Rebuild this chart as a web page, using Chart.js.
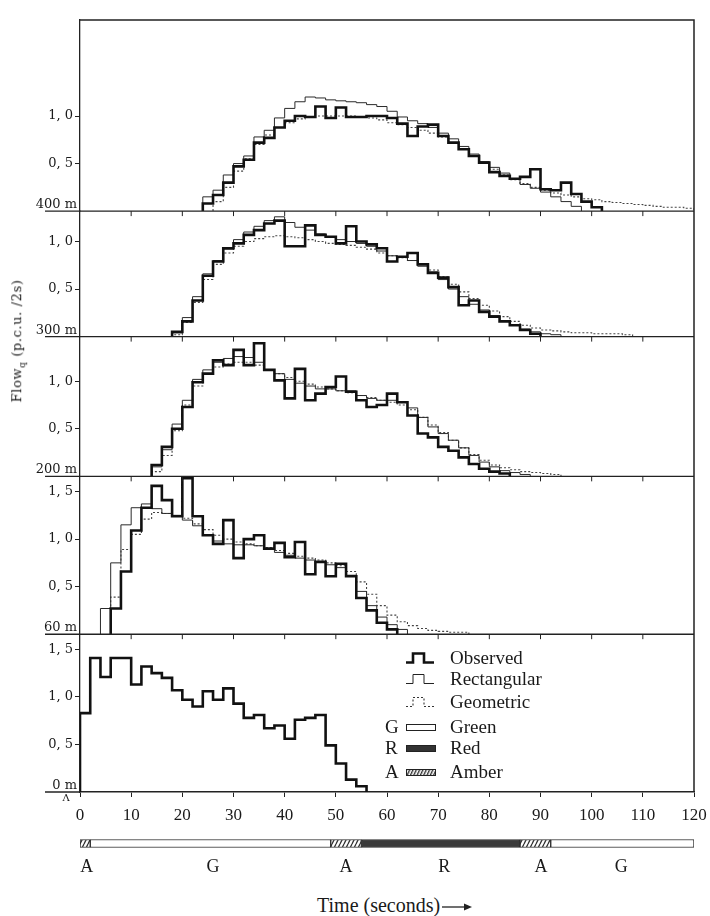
<!DOCTYPE html>
<html><head><meta charset="utf-8">
<script src="https://cdn.jsdelivr.net/npm/chart.js@4/dist/chart.umd.min.js"></script>
<style>
html,body{margin:0;padding:0;background:#fff;}
#wrap{position:relative;width:710px;height:916px;overflow:hidden;font-family:'Liberation Serif',serif;color:#1a1a1a;}
#main{position:absolute;left:0;top:0;}
#sig{position:absolute;left:0;top:836px;}
.ytitle{position:absolute;left:18px;top:341px;transform:translate(-50%,-50%) rotate(-90deg);font-family:'DejaVu Serif',serif;font-size:13px;white-space:nowrap;letter-spacing:0.6px;}
.ytitle sub{font-size:9px;}
.lg{position:absolute;font-size:19px;line-height:20px;white-space:nowrap;}
.ic{position:absolute;}
.xtitle{position:absolute;left:317px;top:893px;font-size:20px;line-height:24px;white-space:nowrap;}
.xtitle svg{vertical-align:middle;margin-left:2px;}
</style></head>
<body><div id="wrap">
<canvas id="main" width="710" height="830"></canvas>
<canvas id="sig" width="710" height="45"></canvas>
<div class="ytitle">Flow<sub>q</sub> (p.c.u. /2s)</div>

<svg class="ic" style="left:406px;top:652px" width="28" height="12"><path d="M0 10.5 H7 V1.5 H18 V10.5 H28" stroke="#111" stroke-width="2.6" fill="none"/></svg>
<div class="lg" style="left:450px;top:648px">Observed</div>
<svg class="ic" style="left:406px;top:673px" width="28" height="12"><path d="M0 10.5 H7 V1.5 H18 V10.5 H28" stroke="#222" stroke-width="1" fill="none"/></svg>
<div class="lg" style="left:450px;top:669px">Rectangular</div>
<svg class="ic" style="left:406px;top:696px" width="28" height="12"><path d="M0 10.5 H7 V1.5 H18 V10.5 H28" stroke="#333" stroke-width="1.1" stroke-dasharray="2 2" fill="none"/></svg>
<div class="lg" style="left:450px;top:692px">Geometric</div>

<div class="lg" style="left:385px;top:717px">G</div>
<svg class="ic" style="left:406px;top:724px" width="30" height="8"><rect x="0.5" y="0.5" width="29" height="6" fill="#fff" stroke="#222"/></svg>
<div class="lg" style="left:450px;top:717px">Green</div>
<div class="lg" style="left:385px;top:738px">R</div>
<svg class="ic" style="left:406px;top:745px" width="30" height="8"><rect x="0.5" y="0.5" width="29" height="6" fill="#333" stroke="#222"/></svg>
<div class="lg" style="left:450px;top:738px">Red</div>
<div class="lg" style="left:385px;top:762px">A</div>
<svg class="ic" style="left:406px;top:769px" width="30" height="8"><defs><pattern id="hp" width="3" height="4" patternUnits="userSpaceOnUse" patternTransform="rotate(25)"><rect width="1.4" height="4" fill="#333"/></pattern></defs><rect x="0.5" y="0.5" width="29" height="6" fill="url(#hp)" stroke="#222"/></svg>
<div class="lg" style="left:450px;top:762px">Amber</div>

<div class="xtitle">Time (seconds)<svg width="32" height="10"><line x1="0" y1="5" x2="27" y2="5" stroke="#222" stroke-width="1.3"/><path d="M22 1.5 L30 5 L22 8.5 Z" fill="#222"/></svg></div>
</div>
<script>
// ---- data: flow (p.c.u./2s) per 2-second interval ----
const binWidth = 2;
const panelNames = ['400 m', '300 m', '200 m', '60 m', '0 m'];
const panelTicks400 = [0.5, 1.0];
const panelTicks300 = [0.5, 1.0];
const panelTicks200 = [0.5, 1.0];
const panelTicks60 = [0.5, 1.0, 1.5];
const panelTicks0 = [0.5, 1.0, 1.5];

// 400 m
const obs400Start = 24;
const obs400 = [0.08,0.17,0.30,0.47,0.54,0.72,0.77,0.88,0.95,1.00,0.99,1.10,0.98,1.09,0.99,0.99,1.00,1.00,0.98,0.92,0.79,0.89,0.91,0.79,0.72,0.65,0.58,0.51,0.41,0.37,0.34,0.36,0.44,0.23,0.22,0.30,0.18,0.10,0.04];
const rect400Start = 24;
const rect400 = [0.15,0.22,0.38,0.50,0.58,0.78,0.85,0.98,1.08,1.15,1.20,1.19,1.17,1.16,1.15,1.14,1.12,1.10,1.05,0.99,0.95,0.92,0.88,0.82,0.76,0.68,0.60,0.52,0.46,0.40,0.34,0.28,0.24,0.20,0.15,0.10,0.05];
const geo400Start = 26;
const geo400 = [0.10,0.25,0.42,0.55,0.70,0.80,0.88,0.93,0.97,0.99,1.00,1.00,1.00,1.00,0.99,0.98,0.96,0.93,0.91,0.88,0.85,0.82,0.78,0.72,0.65,0.58,0.50,0.44,0.38,0.33,0.29,0.25,0.22,0.19,0.17,0.15,0.13,0.12,0.10,0.09,0.08,0.07,0.06,0.05,0.04,0.04,0.03];

// 300 m
const obs300Start = 18;
const obs300 = [0.05,0.16,0.38,0.64,0.79,0.93,0.98,1.07,1.12,1.19,1.22,0.95,0.95,1.17,1.07,1.05,0.98,1.16,1.00,0.97,0.93,0.79,0.84,0.88,0.76,0.67,0.62,0.52,0.33,0.38,0.26,0.21,0.16,0.12,0.07,0.03];
const rect300Start = 18;
const rect300 = [0.04,0.20,0.42,0.66,0.80,0.92,1.02,1.10,1.16,1.22,1.26,1.20,1.15,1.12,1.08,1.05,1.02,1.00,0.98,0.95,0.90,0.85,0.84,0.80,0.74,0.68,0.60,0.50,0.42,0.34,0.28,0.22,0.16,0.12,0.08,0.05,0.03,0.02];
const geo300Start = 18;
const geo300 = [0.02,0.15,0.36,0.60,0.76,0.88,0.95,1.00,1.03,1.05,1.06,1.05,1.04,1.02,1.00,0.98,0.97,0.96,0.94,0.92,0.88,0.85,0.83,0.80,0.76,0.70,0.63,0.55,0.47,0.40,0.33,0.27,0.21,0.16,0.12,0.09,0.07,0.06,0.05,0.04,0.04,0.03,0.03,0.03,0.02];

// 200 m
const obs200Start = 14;
const obs200 = [0.12,0.31,0.50,0.73,0.99,1.08,1.22,1.17,1.33,1.17,1.40,1.12,1.01,0.82,1.13,0.80,0.87,0.94,1.05,0.89,0.80,0.73,0.75,0.87,0.78,0.64,0.45,0.41,0.31,0.27,0.20,0.13,0.08,0.05,0.03];
const rect200Start = 14;
const rect200 = [0.10,0.28,0.55,0.80,1.02,1.12,1.20,1.24,1.26,1.25,1.20,1.12,1.08,1.02,0.98,0.95,0.92,0.92,0.90,0.90,0.85,0.82,0.80,0.80,0.78,0.72,0.62,0.52,0.45,0.38,0.30,0.22,0.15,0.10,0.06,0.04,0.02];
const geo200Start = 14;
const geo200 = [0.05,0.22,0.48,0.75,0.95,1.08,1.15,1.18,1.20,1.20,1.17,1.12,1.08,1.04,1.00,0.97,0.94,0.92,0.90,0.88,0.85,0.83,0.80,0.78,0.75,0.70,0.62,0.54,0.46,0.38,0.30,0.23,0.17,0.12,0.09,0.07,0.05,0.04,0.03,0.02];

// 60 m
const obs60Start = 6;
const obs60 = [0.27,0.66,1.09,1.33,1.56,1.41,1.24,1.64,1.24,1.04,0.95,1.20,0.80,1.00,1.04,0.90,0.96,0.81,0.97,0.63,0.76,0.61,0.74,0.61,0.38,0.25,0.12,0.05];
const rect60Start = 4;
const rect60 = [0.27,0.75,1.15,1.33,1.37,1.32,1.27,1.25,1.20,1.14,1.04,0.98,0.95,0.94,0.94,0.93,0.90,0.86,0.83,0.80,0.78,0.76,0.73,0.70,0.62,0.45,0.30,0.18,0.10,0.05];
const geo60Start = 6;
const geo60 = [0.39,0.89,1.05,1.21,1.28,1.27,1.24,1.22,1.16,1.10,1.04,1.00,0.97,0.95,0.93,0.91,0.88,0.85,0.82,0.80,0.78,0.75,0.72,0.66,0.55,0.42,0.30,0.20,0.13,0.09,0.06,0.04,0.03,0.02,0.02];

// 0 m (stop line)
const obs0Start = 0;
const obs0 = [0.83,1.41,1.21,1.41,1.41,1.13,1.32,1.25,1.20,1.07,0.97,0.90,1.06,0.97,1.09,0.93,0.78,0.81,0.67,0.70,0.56,0.76,0.78,0.81,0.49,0.30,0.13,0.06];

// signal phases (seconds)
const phaseKind = ['A','G','A','R','A','G'];
const phaseStart = [0, 2, 49, 55, 86, 92];
const phaseEnd = [2, 49, 55, 86, 92, 120];
const phaseLabelAt = [1.3, 26, 52, 71.2, 90.1, 105.8];
const phaseLabelText = ['A','G','A','R','A','G'];

// ---- build ----
const SERIF = 'DejaVu Serif';
Chart.defaults.font.family = SERIF;
Chart.defaults.font.size = 13;
Chart.defaults.color = '#1a1a1a';

function stepPoints(start, values) {
  const pts = [{x: start, y: 0}];
  values.forEach((v, i) => pts.push({x: start + i * binWidth, y: v}));
  const end = start + values.length * binWidth;
  pts.push({x: end, y: values[values.length - 1]});
  pts.push({x: end, y: 0});
  return pts;
}
const styles = {
  obs: {borderColor: '#111', borderWidth: 2.6},
  rect: {borderColor: '#2a2a2a', borderWidth: 1},
  geo: {borderColor: '#444', borderWidth: 1.1, borderDash: [2, 2]}
};
function ds(kind, axis, start, vals) {
  return Object.assign({data: stepPoints(start, vals), yAxisID: axis, stepped: true,
    pointRadius: 0, fill: false, tension: 0}, styles[kind]);
}
const datasets = [
  ds('obs','y400',obs400Start,obs400), ds('obs','y300',obs300Start,obs300),
  ds('obs','y200',obs200Start,obs200), ds('obs','y60',obs60Start,obs60), ds('obs','y0',obs0Start,obs0),
  ds('rect','y400',rect400Start,rect400), ds('rect','y300',rect300Start,rect300),
  ds('rect','y200',rect200Start,rect200), ds('rect','y60',rect60Start,rect60),
  ds('geo','y400',geo400Start,geo400), ds('geo','y300',geo300Start,geo300),
  ds('geo','y200',geo200Start,geo200), ds('geo','y60',geo60Start,geo60)
];

const axisIds = ['y400','y300','y200','y60','y0'];
const axisMax = [2.01, 1.32, 1.47, 1.66, 1.66];
const axisTicks = [panelTicks400, panelTicks300, panelTicks200, panelTicks60, panelTicks0];
const scales = {
  x: {type: 'linear', min: 0, max: 120,
    ticks: {stepSize: 10, padding: 8, color: '#1a1a1a', font: {family: 'Liberation Serif', size: 17}},
    grid: {drawOnChartArea: false, tickLength: 5, tickColor: '#222', color: '#222'},
    border: {color: '#222', width: 1.6},
    afterFit: s => { s.height = 34; s.paddingLeft = 0; s.paddingRight = 0; }
  }
};
axisIds.forEach((id, i) => {
  scales[id] = {
    type: 'linear', position: 'left', stack: 'panels', stackWeight: axisMax[i], weight: 10 - i,
    min: 0, max: axisMax[i],
    afterBuildTicks: s => { s.ticks = axisTicks[i].map(v => ({value: v})); },
    afterFit: s => { s.width = 80; s.paddingTop = 0; s.paddingBottom = 0; },
    ticks: {padding: 2, color: '#1a1a1a', font: {size: 13},
      callback: v => v.toFixed(1).replace('.', ', ')},
    grid: {drawOnChartArea: false, tickLength: 5, tickColor: '#222', color: '#222'},
    border: {color: '#222', width: 1.3}
  };
});

const decor = {
  id: 'decor',
  afterDatasetsDraw(chart) {
    const ctx = chart.ctx, a = chart.chartArea, xs = chart.scales.x;
    ctx.save();
    ctx.strokeStyle = '#222';
    ctx.lineWidth = 1.5;
    ctx.beginPath();
    ctx.moveTo(a.left, a.top); ctx.lineTo(a.right, a.top); ctx.lineTo(a.right, a.bottom);
    ctx.stroke();
    ctx.fillStyle = '#1a1a1a';
    ctx.font = '13px "' + SERIF + '"';
    ctx.textAlign = 'right';
    ctx.textBaseline = 'alphabetic';
    axisIds.forEach((id, i) => {
      const y0 = chart.scales[id].getPixelForValue(0);
      ctx.lineWidth = 1.4;
      ctx.beginPath(); ctx.moveTo(45, y0); ctx.lineTo(i < axisIds.length - 1 ? a.right : a.left, y0); ctx.stroke();
      ctx.fillText(panelNames[i], 77, y0 - 3);
      if (i < axisIds.length - 1) {
        ctx.lineWidth = 1;
        for (let t = 10; t < 120; t += 10) {
          const px = xs.getPixelForValue(t);
          ctx.beginPath(); ctx.moveTo(px, y0); ctx.lineTo(px, y0 + 5); ctx.stroke();
        }
      }
    });
    ctx.font = '10px "' + SERIF + '"';
    ctx.textAlign = 'center';
    ctx.textBaseline = 'top';
    ctx.fillText('\u039B', 66, a.bottom + 1);
    ctx.restore();
  }
};

new Chart(document.getElementById('main'), {
  type: 'line',
  data: {datasets},
  options: {
    responsive: false, animation: false, devicePixelRatio: 1,
    layout: {autoPadding: false, padding: {top: 20, right: 16, bottom: 4, left: 0}},
    plugins: {legend: {display: false}, tooltip: {enabled: false}},
    scales
  },
  plugins: [decor]
});

// hatch pattern for amber
function hatch() {
  const c = document.createElement('canvas'); c.width = 4; c.height = 8;
  const g = c.getContext('2d');
  g.fillStyle = '#fff'; g.fillRect(0, 0, 4, 8);
  g.strokeStyle = '#333'; g.lineWidth = 1.3;
  g.beginPath(); g.moveTo(0, 8); g.lineTo(4, 0); g.moveTo(-4, 8); g.lineTo(0, 0); g.moveTo(4, 8); g.lineTo(8, 0); g.stroke();
  return g.createPattern(c, 'repeat');
}
const phaseFill = {G: '#ffffff', R: '#3a3a3a', A: hatch()};

new Chart(document.getElementById('sig'), {
  type: 'bar',
  data: {
    labels: ['signal'],
    datasets: phaseKind.map((k, i) => ({
      data: [[phaseStart[i], phaseEnd[i]]],
      backgroundColor: phaseFill[k], borderColor: '#2a2a2a', borderWidth: 1,
      borderSkipped: false, barThickness: 8, grouped: false
    }))
  },
  options: {
    indexAxis: 'y', responsive: false, animation: false, devicePixelRatio: 1,
    layout: {autoPadding: false, padding: {top: 0, right: 16, bottom: 0, left: 80}},
    plugins: {legend: {display: false}, tooltip: {enabled: false}},
    scales: {
      y: {type: 'category', display: false},
      x: {type: 'linear', min: 0, max: 120,
        afterBuildTicks: s => { s.ticks = phaseLabelAt.map(v => ({value: v})); },
        afterFit: s => { s.height = 30; s.paddingLeft = 0; s.paddingRight = 0; },
        ticks: {padding: 5, color: '#1a1a1a', font: {family: 'Liberation Serif', size: 18},
          callback: (v, i) => phaseLabelText[i]},
        grid: {display: false, drawTicks: false}, border: {display: false}
      }
    }
  }
});
</script>
</body></html>
